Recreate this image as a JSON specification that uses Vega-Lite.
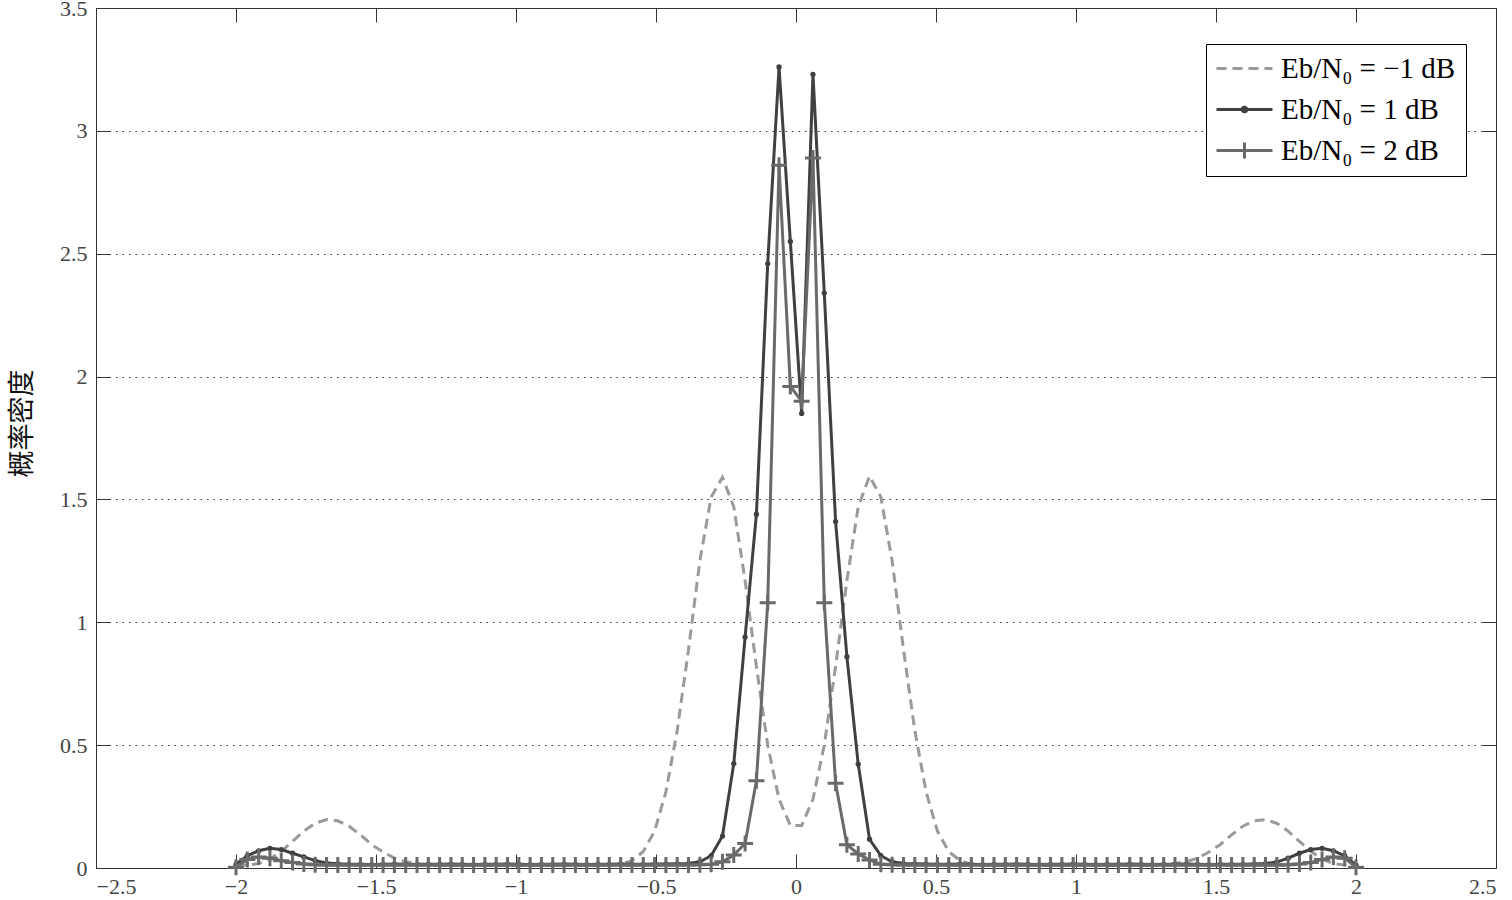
{
  "$schema": "https://vega.github.io/schema/vega-lite/v6.json",
  "width": 1400,
  "height": 860,
  "autosize": {"type": "none"},
  "padding": {"left": 96, "top": 8, "right": 16, "bottom": 32},
  "background": "white",
  "config": {
    "view": {"stroke": "#333333", "strokeWidth": 1},
    "axis": {
      "domain": false,
      "labelFont": "Liberation Serif",
      "labelFontSize": 22,
      "labelColor": "#444444",
      "tickColor": "#333333",
      "tickWidth": 1,
      "tickSize": -14
    }
  },
  "data": {
    "values": [
      {"x": -2, "a": 0.01, "b": 0.015, "c": 0.003},
      {"x": -1.9596, "a": 0.012, "b": 0.05, "c": 0.035},
      {"x": -1.9192, "a": 0.018, "b": 0.07, "c": 0.045},
      {"x": -1.8788, "a": 0.036, "b": 0.08, "c": 0.04},
      {"x": -1.8384, "a": 0.068, "b": 0.075, "c": 0.03},
      {"x": -1.798, "a": 0.108, "b": 0.06, "c": 0.022},
      {"x": -1.7576, "a": 0.15, "b": 0.045, "c": 0.016},
      {"x": -1.7172, "a": 0.182, "b": 0.03, "c": 0.013},
      {"x": -1.6768, "a": 0.197, "b": 0.02, "c": 0.012},
      {"x": -1.6364, "a": 0.192, "b": 0.017, "c": 0.012},
      {"x": -1.596, "a": 0.17, "b": 0.015, "c": 0.012},
      {"x": -1.5556, "a": 0.135, "b": 0.015, "c": 0.012},
      {"x": -1.5152, "a": 0.095, "b": 0.014, "c": 0.012},
      {"x": -1.4747, "a": 0.065, "b": 0.015, "c": 0.012},
      {"x": -1.4343, "a": 0.04, "b": 0.016, "c": 0.012},
      {"x": -1.3939, "a": 0.026, "b": 0.015, "c": 0.012},
      {"x": -1.3535, "a": 0.018, "b": 0.014, "c": 0.012},
      {"x": -1.3131, "a": 0.014, "b": 0.015, "c": 0.012},
      {"x": -1.2727, "a": 0.012, "b": 0.015, "c": 0.012},
      {"x": -1.2323, "a": 0.01, "b": 0.016, "c": 0.012},
      {"x": -1.1919, "a": 0.01, "b": 0.015, "c": 0.012},
      {"x": -1.1515, "a": 0.01, "b": 0.014, "c": 0.012},
      {"x": -1.1111, "a": 0.01, "b": 0.015, "c": 0.012},
      {"x": -1.0707, "a": 0.01, "b": 0.015, "c": 0.012},
      {"x": -1.0303, "a": 0.01, "b": 0.016, "c": 0.012},
      {"x": -0.9899, "a": 0.01, "b": 0.015, "c": 0.012},
      {"x": -0.9495, "a": 0.01, "b": 0.014, "c": 0.012},
      {"x": -0.9091, "a": 0.01, "b": 0.015, "c": 0.012},
      {"x": -0.8687, "a": 0.01, "b": 0.015, "c": 0.012},
      {"x": -0.8283, "a": 0.01, "b": 0.016, "c": 0.012},
      {"x": -0.7879, "a": 0.01, "b": 0.015, "c": 0.012},
      {"x": -0.7475, "a": 0.01, "b": 0.014, "c": 0.012},
      {"x": -0.7071, "a": 0.01, "b": 0.015, "c": 0.012},
      {"x": -0.6667, "a": 0.012, "b": 0.015, "c": 0.012},
      {"x": -0.6263, "a": 0.016, "b": 0.016, "c": 0.012},
      {"x": -0.5859, "a": 0.03, "b": 0.015, "c": 0.012},
      {"x": -0.5455, "a": 0.067, "b": 0.015, "c": 0.012},
      {"x": -0.5051, "a": 0.15, "b": 0.016, "c": 0.012},
      {"x": -0.4646, "a": 0.31, "b": 0.016, "c": 0.012},
      {"x": -0.4242, "a": 0.56, "b": 0.017, "c": 0.012},
      {"x": -0.3838, "a": 0.89, "b": 0.018, "c": 0.012},
      {"x": -0.3434, "a": 1.25, "b": 0.025, "c": 0.013},
      {"x": -0.303, "a": 1.51, "b": 0.05, "c": 0.015},
      {"x": -0.2626, "a": 1.59, "b": 0.13, "c": 0.025},
      {"x": -0.2222, "a": 1.47, "b": 0.425, "c": 0.053},
      {"x": -0.1818, "a": 1.17, "b": 0.94, "c": 0.1},
      {"x": -0.1414, "a": 0.82, "b": 1.44, "c": 0.355},
      {"x": -0.101, "a": 0.5, "b": 2.46, "c": 1.08},
      {"x": -0.0606, "a": 0.28, "b": 3.26, "c": 2.86},
      {"x": -0.0202, "a": 0.173, "b": 2.55, "c": 1.96},
      {"x": 0.0202, "a": 0.173, "b": 1.85, "c": 1.9},
      {"x": 0.0606, "a": 0.28, "b": 3.23, "c": 2.89},
      {"x": 0.101, "a": 0.5, "b": 2.34, "c": 1.08},
      {"x": 0.1414, "a": 0.82, "b": 1.41, "c": 0.345},
      {"x": 0.1818, "a": 1.17, "b": 0.86, "c": 0.095},
      {"x": 0.2222, "a": 1.47, "b": 0.423, "c": 0.057},
      {"x": 0.2626, "a": 1.595, "b": 0.117, "c": 0.033},
      {"x": 0.303, "a": 1.51, "b": 0.05, "c": 0.015},
      {"x": 0.3434, "a": 1.25, "b": 0.025, "c": 0.013},
      {"x": 0.3838, "a": 0.89, "b": 0.018, "c": 0.012},
      {"x": 0.4242, "a": 0.56, "b": 0.017, "c": 0.012},
      {"x": 0.4646, "a": 0.31, "b": 0.016, "c": 0.012},
      {"x": 0.5051, "a": 0.15, "b": 0.015, "c": 0.012},
      {"x": 0.5455, "a": 0.067, "b": 0.015, "c": 0.012},
      {"x": 0.5859, "a": 0.03, "b": 0.016, "c": 0.012},
      {"x": 0.6263, "a": 0.016, "b": 0.015, "c": 0.012},
      {"x": 0.6667, "a": 0.012, "b": 0.014, "c": 0.012},
      {"x": 0.7071, "a": 0.01, "b": 0.015, "c": 0.012},
      {"x": 0.7475, "a": 0.01, "b": 0.015, "c": 0.012},
      {"x": 0.7879, "a": 0.01, "b": 0.016, "c": 0.012},
      {"x": 0.8283, "a": 0.01, "b": 0.015, "c": 0.012},
      {"x": 0.8687, "a": 0.01, "b": 0.014, "c": 0.012},
      {"x": 0.9091, "a": 0.01, "b": 0.015, "c": 0.012},
      {"x": 0.9495, "a": 0.01, "b": 0.015, "c": 0.012},
      {"x": 0.9899, "a": 0.01, "b": 0.016, "c": 0.012},
      {"x": 1.0303, "a": 0.01, "b": 0.015, "c": 0.012},
      {"x": 1.0707, "a": 0.01, "b": 0.014, "c": 0.012},
      {"x": 1.1111, "a": 0.01, "b": 0.015, "c": 0.012},
      {"x": 1.1515, "a": 0.01, "b": 0.015, "c": 0.012},
      {"x": 1.1919, "a": 0.01, "b": 0.016, "c": 0.012},
      {"x": 1.2323, "a": 0.01, "b": 0.015, "c": 0.012},
      {"x": 1.2727, "a": 0.012, "b": 0.014, "c": 0.012},
      {"x": 1.3131, "a": 0.014, "b": 0.015, "c": 0.012},
      {"x": 1.3535, "a": 0.018, "b": 0.015, "c": 0.012},
      {"x": 1.3939, "a": 0.026, "b": 0.016, "c": 0.012},
      {"x": 1.4343, "a": 0.04, "b": 0.015, "c": 0.012},
      {"x": 1.4747, "a": 0.065, "b": 0.014, "c": 0.012},
      {"x": 1.5152, "a": 0.095, "b": 0.015, "c": 0.012},
      {"x": 1.5556, "a": 0.135, "b": 0.015, "c": 0.012},
      {"x": 1.596, "a": 0.17, "b": 0.015, "c": 0.012},
      {"x": 1.6364, "a": 0.192, "b": 0.016, "c": 0.012},
      {"x": 1.6768, "a": 0.197, "b": 0.018, "c": 0.012},
      {"x": 1.7172, "a": 0.182, "b": 0.024, "c": 0.012},
      {"x": 1.7576, "a": 0.15, "b": 0.04, "c": 0.013},
      {"x": 1.798, "a": 0.108, "b": 0.06, "c": 0.016},
      {"x": 1.8384, "a": 0.068, "b": 0.075, "c": 0.022},
      {"x": 1.8788, "a": 0.036, "b": 0.08, "c": 0.035},
      {"x": 1.9192, "a": 0.018, "b": 0.07, "c": 0.045},
      {"x": 1.9596, "a": 0.012, "b": 0.05, "c": 0.04},
      {"x": 2, "a": 0.01, "b": 0.012, "c": 0.003}
    ]
  },
  "transform": [{"fold": ["a", "b", "c"], "as": ["series", "y"]}],
  "resolve": {"axis": {"x": "independent", "y": "independent"}},
  "layer": [
    {
      "transform": [{"filter": "datum.series == 'a'"}],
      "mark": {"type": "line", "strokeWidth": 3, "strokeDash": [10, 6]},
      "encoding": {
        "x": {
          "field": "x", "type": "quantitative",
          "scale": {"domain": [-2.5, 2.5], "nice": false, "zero": false},
          "axis": {"orient": "bottom", "values": [-2.5, -2, -1.5, -1, -0.5, 0, 0.5, 1, 1.5, 2, 2.5], "format": "~g", "grid": false, "title": null, "labelPadding": 22}
        },
        "y": {
          "field": "y", "type": "quantitative",
          "scale": {"domain": [0, 3.5], "nice": false, "zero": false},
          "axis": {
            "orient": "left", "values": [0, 0.5, 1, 1.5, 2, 2.5, 3, 3.5], "format": "~g",
            "grid": true, "gridColor": "#333333", "gridDash": [1.5, 5], "gridWidth": 1,
            "labelPadding": 23,
            "title": "概率密度", "titleFont": "Noto Sans CJK SC", "titleFontSize": 27, "titleFontWeight": "normal", "titleColor": "#111111",
            "titleX": -60, "titleY": 415
          }
        },
        "color": {
          "field": "series", "type": "nominal",
          "scale": {"domain": ["a", "b", "c"], "range": ["#9a9a9a", "#404040", "#6a6a6a"]},
          "legend": {
            "orient": "none", "legendX": 1110, "legendY": 36, "title": null,
            "labelExpr": "datum.value == 'a' ? 'Eb/N₀ = −1 dB' : datum.value == 'b' ? 'Eb/N₀ = 1 dB' : 'Eb/N₀ = 2 dB'",
            "labelFont": "Liberation Serif", "labelFontSize": 29, "labelColor": "#000000", "labelLimit": 400,
            "symbolType": "M-4,0L4,0", "symbolSize": 196, "symbolStrokeWidth": 3,
            "symbolOffset": 14, "labelOffset": 22, "rowPadding": 11, "padding": 10,
            "strokeColor": "#000000", "fillColor": "#ffffff",
            "encode": {
              "symbols": {
                "update": {
                  "shape": {"signal": "datum.value == 'a' ? 'M-4,0L4,0' : datum.value == 'b' ? 'M-4,0L4,0M0.33,0A0.33,0.33,0,1,1,-0.33,0A0.33,0.33,0,1,1,0.33,0Z' : 'M-4,0L4,0M0,-1.15L0,1.15'"},
                  "strokeDash": {"signal": "datum.value == 'a' ? [10, 6] : [1, 0]"},
                  "fill": {"signal": "datum.value == 'b' ? '#404040' : 'transparent'"},
                  "opacity": {"value": 1}
                }
              }
            }
          }
        }
      }
    },
    {
      "transform": [{"filter": "datum.series == 'b'"}],
      "mark": {"type": "line", "strokeWidth": 3},
      "encoding": {
        "x": {"field": "x", "type": "quantitative", "axis": null},
        "y": {"field": "y", "type": "quantitative", "axis": null},
        "color": {"field": "series", "type": "nominal"}
      }
    },
    {
      "transform": [{"filter": "datum.series == 'b'"}],
      "mark": {"type": "point", "shape": "circle", "filled": true, "size": 28, "opacity": 1},
      "encoding": {
        "x": {"field": "x", "type": "quantitative", "axis": null},
        "y": {"field": "y", "type": "quantitative", "axis": null},
        "color": {"field": "series", "type": "nominal"}
      }
    },
    {
      "transform": [{"filter": "datum.series == 'c'"}],
      "mark": {"type": "line", "strokeWidth": 3},
      "encoding": {
        "x": {"field": "x", "type": "quantitative", "axis": null},
        "y": {"field": "y", "type": "quantitative", "axis": null},
        "color": {"field": "series", "type": "nominal"}
      }
    },
    {
      "transform": [{"filter": "datum.series == 'c'"}],
      "mark": {"type": "point", "shape": "M-1,0L1,0M0,-1L0,1", "filled": false, "size": 256, "strokeWidth": 3, "opacity": 1},
      "encoding": {
        "x": {
          "field": "x", "type": "quantitative",
          "axis": {"orient": "top", "values": [-2.5, -2, -1.5, -1, -0.5, 0, 0.5, 1, 1.5, 2, 2.5], "labels": false, "grid": false, "title": null}
        },
        "y": {
          "field": "y", "type": "quantitative",
          "axis": {"orient": "right", "values": [0, 0.5, 1, 1.5, 2, 2.5, 3, 3.5], "labels": false, "grid": false, "title": null}
        },
        "color": {"field": "series", "type": "nominal"}
      }
    }
  ]
}
